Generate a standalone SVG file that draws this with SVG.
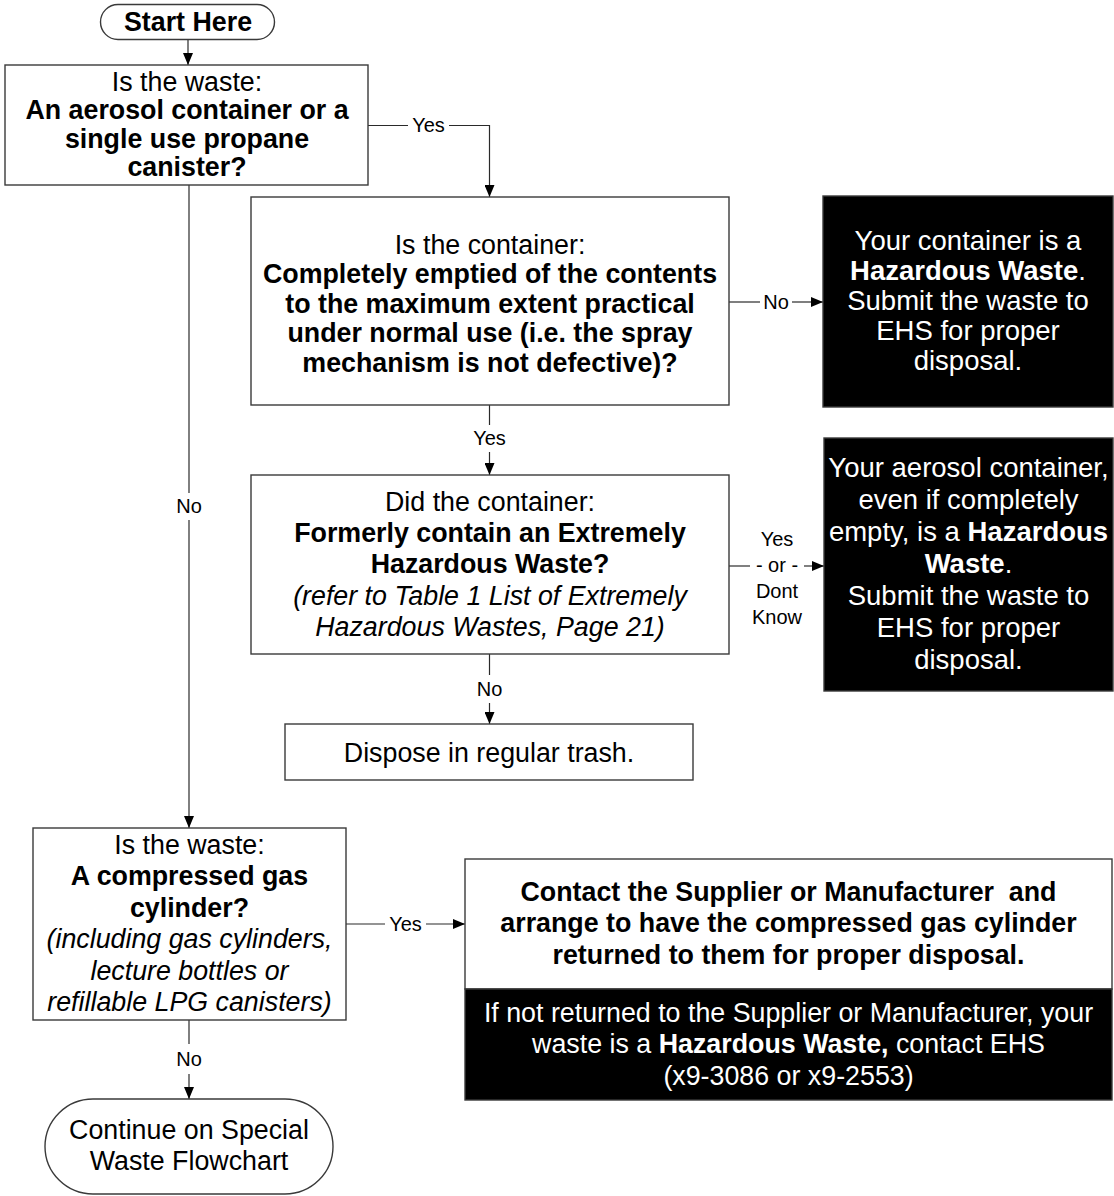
<svg xmlns="http://www.w3.org/2000/svg" width="1114" height="1196" viewBox="0 0 1114 1196">
  <style>
    text { font-family: "Liberation Sans", Arial, sans-serif; fill: #000; }
    .t { font-size: 26.8px; text-anchor: middle; }
    .t27 { font-size: 27.5px; text-anchor: middle; }
    .inv { fill: #fff; }
    .b { font-weight: bold; }
    .i { font-style: italic; }
    .lbl { font-size: 20px; text-anchor: middle; }
    .box { fill: #fff; stroke: #3a3a3a; stroke-width: 1.4; }
    .blk { fill: #000; stroke: #3a3a3a; stroke-width: 1.4; }
    .conn path { fill: none; stroke: #2a2a2a; stroke-width: 1.2; }
  </style>
  <defs>
    <marker id="arrow" viewBox="0 0 12 10" refX="12" refY="5" markerWidth="12" markerHeight="10" markerUnits="userSpaceOnUse" orient="auto">
      <path d="M0,0 L12,5 L0,10 z" fill="#000"/>
    </marker>
  </defs>

  <rect width="1114" height="1196" fill="#fff"/>

  <!-- connectors -->
  <g id="connectors" class="conn">
    <path d="M188,40 V65" marker-end="url(#arrow)"/>
    <!-- aerosol? yes -->
    <path d="M368,125.5 H408"/>
    <path d="M449,125.5 H489.5 V197" marker-end="url(#arrow)"/>
    <!-- aerosol? no -->
    <path d="M189,185 V493"/>
    <path d="M189,520 V828" marker-end="url(#arrow)"/>
    <!-- emptied? no -->
    <path d="M729,302 H760"/>
    <path d="M792,302 H823" marker-end="url(#arrow)"/>
    <!-- emptied? yes -->
    <path d="M489.5,405 V425"/>
    <path d="M489.5,452 V475" marker-end="url(#arrow)"/>
    <!-- extremely hazardous? yes / don't know -->
    <path d="M729,566 H750"/>
    <path d="M804,566 H824" marker-end="url(#arrow)"/>
    <!-- extremely hazardous? no -->
    <path d="M489.5,654 V675"/>
    <path d="M489.5,703 V724" marker-end="url(#arrow)"/>
    <!-- compressed gas? yes -->
    <path d="M346,924 H385"/>
    <path d="M426,924 H465" marker-end="url(#arrow)"/>
    <!-- compressed gas? no -->
    <path d="M189,1020 V1044"/>
    <path d="M189,1074 V1099" marker-end="url(#arrow)"/>

    <text class="lbl" x="428.5" y="132">Yes</text>
    <text class="lbl" x="189" y="513">No</text>
    <text class="lbl" x="776" y="309">No</text>
    <text class="lbl" x="489.5" y="445">Yes</text>
    <text class="lbl" x="777" y="546">Yes</text>
    <text class="lbl" x="777" y="572">- or -</text>
    <text class="lbl" x="777" y="598">Dont</text>
    <text class="lbl" x="777" y="624">Know</text>
    <text class="lbl" x="489.5" y="696">No</text>
    <text class="lbl" x="405.5" y="931">Yes</text>
    <text class="lbl" x="189" y="1066">No</text>
  </g>

  <g id="start">
    <rect class="box" x="100.5" y="4.5" width="174" height="35" rx="17.5"/>
    <text class="t b" x="188" y="31">Start Here</text>
  </g>

  <g id="q-aerosol">
    <rect class="box" x="5" y="65" width="363" height="120"/>
    <text class="t" x="187" y="91">Is the waste:</text>
    <text class="t b" x="187" y="119">An aerosol container or a</text>
    <text class="t b" x="187" y="148">single use propane</text>
    <text class="t b" x="187" y="176">canister?</text>
  </g>

  <g id="q-emptied">
    <rect class="box" x="251" y="197" width="478" height="208"/>
    <text class="t" x="490" y="254">Is the container:</text>
    <text class="t b" x="490" y="283">Completely emptied of the contents</text>
    <text class="t b" x="490" y="313">to the maximum extent practical</text>
    <text class="t b" x="490" y="342">under normal use (i.e. the spray</text>
    <text class="t b" x="490" y="372">mechanism is not defective)?</text>
  </g>

  <g id="hw-not-empty">
    <rect class="blk" x="823" y="196" width="290" height="211"/>
    <text class="t27 inv" x="968" y="250">Your container is a</text>
    <text class="t27 inv" x="968" y="280"><tspan class="b">Hazardous Waste</tspan>.</text>
    <text class="t27 inv" x="968" y="310">Submit the waste to</text>
    <text class="t27 inv" x="968" y="340">EHS for proper</text>
    <text class="t27 inv" x="968" y="370">disposal.</text>
  </g>

  <g id="q-extremely-hazardous">
    <rect class="box" x="251" y="475" width="478" height="179"/>
    <text class="t" x="490" y="511">Did the container:</text>
    <text class="t b" x="490" y="542">Formerly contain an Extremely</text>
    <text class="t b" x="490" y="573">Hazardous Waste?</text>
    <text class="t i" x="490" y="605">(refer to Table 1 List of Extremely</text>
    <text class="t i" x="490" y="636">Hazardous Wastes, Page 21)</text>
  </g>

  <g id="hw-extremely">
    <rect class="blk" x="824" y="438" width="289" height="253"/>
    <text class="t27 inv" x="968.5" y="477">Your aerosol container,</text>
    <text class="t27 inv" x="968.5" y="509">even if completely</text>
    <text class="t27 inv" x="968.5" y="541">empty, is a <tspan class="b">Hazardous</tspan></text>
    <text class="t27 inv" x="968.5" y="573"><tspan class="b">Waste</tspan>.</text>
    <text class="t27 inv" x="968.5" y="605">Submit the waste to</text>
    <text class="t27 inv" x="968.5" y="637">EHS for proper</text>
    <text class="t27 inv" x="968.5" y="669">disposal.</text>
  </g>

  <g id="trash">
    <rect class="box" x="285" y="724" width="408" height="56"/>
    <text class="t" x="489" y="762">Dispose in regular trash.</text>
  </g>

  <g id="q-compressed-gas">
    <rect class="box" x="33" y="828" width="313" height="192"/>
    <text class="t" x="189.5" y="854">Is the waste:</text>
    <text class="t b" x="189.5" y="885">A compressed gas</text>
    <text class="t b" x="189.5" y="917">cylinder?</text>
    <text class="t i" x="189.5" y="948">(including gas cylinders,</text>
    <text class="t i" x="189.5" y="980">lecture bottles or</text>
    <text class="t i" x="189.5" y="1011">refillable LPG canisters)</text>
  </g>

  <g id="return-cylinder">
    <rect class="box" x="465" y="859" width="647" height="130"/>
    <rect class="blk" x="465" y="989" width="647" height="111"/>
    <text class="t b" x="788.5" y="901">Contact the Supplier or Manufacturer&#160; and</text>
    <text class="t b" x="788.5" y="932">arrange to have the compressed gas cylinder</text>
    <text class="t b" x="788.5" y="964">returned to them for proper disposal.</text>
    <text class="t inv" x="788.5" y="1022">If not returned to the Supplier or Manufacturer, your</text>
    <text class="t inv" x="788.5" y="1053">waste is a <tspan class="b">Hazardous Waste,</tspan> contact EHS</text>
    <text class="t inv" x="788.5" y="1085">(x9-3086 or x9-2553)</text>
  </g>

  <g id="continue">
    <rect class="box" x="45" y="1099" width="288" height="95" rx="48"/>
    <text class="t" x="189" y="1139">Continue on Special</text>
    <text class="t" x="189" y="1170">Waste Flowchart</text>
  </g>
</svg>
